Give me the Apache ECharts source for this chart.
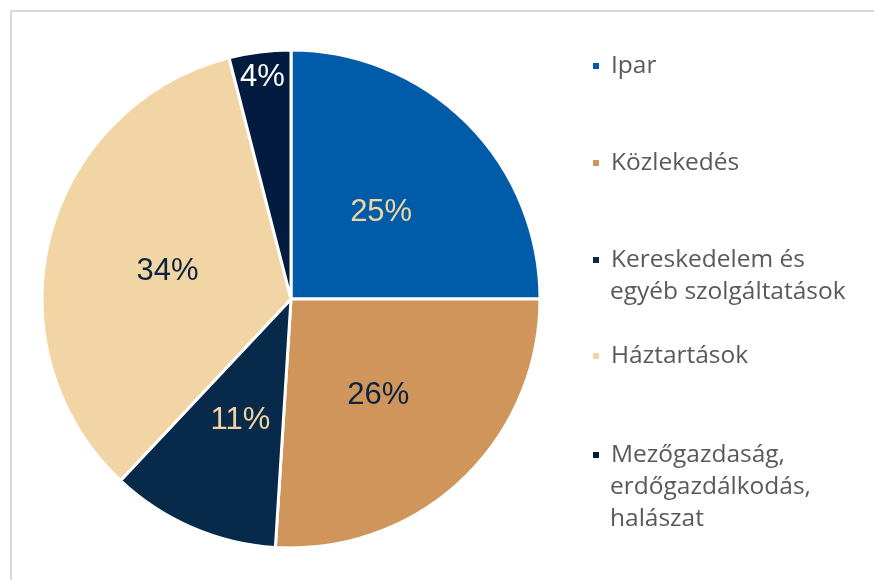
<!DOCTYPE html>
<html><head><meta charset="utf-8">
<script src="https://cdn.jsdelivr.net/npm/echarts@6/dist/echarts.min.js"></script>
<style>html,body{margin:0;padding:0;background:#fff}#c{width:874px;height:580px}</style>
</head><body><div id="c"></div>
<script>
const categories = ["Ipar", "Közlekedés", "Kereskedelem és\negyéb szolgáltatások", "Háztartások", "Mezőgazdaság,\nerdőgazdálkodás,\nhalászat"];
const values = [25, 26, 11, 34, 4];
const colors = ["#005ca8", "#d0955a", "#07294a", "#f2d5a4", "#021b3e"];
const labelColors = ["#f2d4a2", "#0c2340", "#f2d4a2", "#0c2340", "#ffffff"];
const legendCenters = [66, 163, 260, 356, 455];

const chart = echarts.init(document.getElementById('c'));
const cx = 291, cy = 299, R = 249;
const LH = 32;
const LEG_X = 591, TEXT_X = 610;
const legendFont = { fontFamily: 'Open Sans', fontSize: 24.5, color: '#595959' };

const legends = categories.map((name, i) => ({
  orient: 'vertical', left: LEG_X, top: legendCenters[i] - LH / 2, padding: 0,
  data: [name], icon: 'rect', itemWidth: 8, itemHeight: 8, itemGap: 0,
  selectedMode: false,
  formatter: (n) => n.split('\n')[0],
  textStyle: Object.assign({ lineHeight: LH, padding: [0, 0, 0, TEXT_X - LEG_X - 13] }, legendFont)
}));

const extraLines = [];
categories.forEach((name, i) => {
  name.split('\n').slice(1).forEach((line, k) => {
    extraLines.push({ type: 'text', silent: true, left: TEXT_X, top: legendCenters[i] + LH * k + LH / 2,
      style: Object.assign({ text: line, lineHeight: LH }, legendFont, { fill: legendFont.color }) });
  });
});

const labelBase = { position: 'inner', fontFamily: 'Liberation Sans', fontSize: 31, formatter: '{d}%' };

chart.setOption({
  animation: false,
  graphic: [{ type: 'polyline', silent: true, shape: { points: [[11, 580], [11, 11], [874, 11]] },
    style: { stroke: '#d9d9d9', lineWidth: 2, fill: null } }].concat(extraLines),
  legend: legends,
  series: [{
    type: 'pie', center: [cx, cy], radius: [0, R], startAngle: 90, clockwise: true,
    avoidLabelOverlap: false,
    itemStyle: { borderColor: '#ffffff', borderWidth: 3 },
    labelLine: { show: false },
    labelLayout: { dy: 4 },
    data: categories.map((name, i) => ({
      name, value: values[i], itemStyle: { color: colors[i] },
      label: Object.assign({ show: i !== 4, color: labelColors[i] }, labelBase)
    }))
  }, {
    type: 'pie', center: [cx, cy], radius: [200, R], startAngle: 90, clockwise: true,
    silent: true, legendHoverLink: false, avoidLabelOverlap: false,
    itemStyle: { color: 'rgba(0,0,0,0)', borderWidth: 0 },
    labelLine: { show: false },
    labelLayout: { dy: 4 },
    data: categories.map((name, i) => ({
      name: name + ' ', value: values[i],
      label: Object.assign({ show: i === 4, color: labelColors[i] }, labelBase)
    }))
  }]
});
</script></body></html>
